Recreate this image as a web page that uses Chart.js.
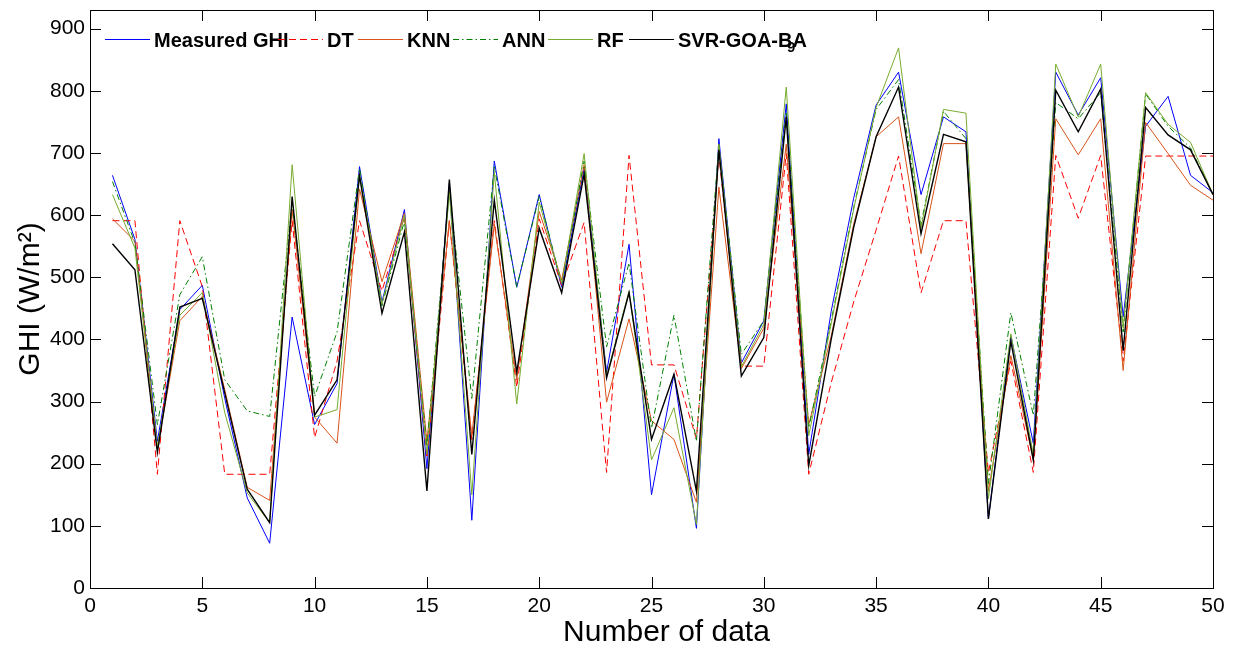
<!DOCTYPE html>
<html lang="en">
<head>
  <meta charset="UTF-8">
  <title>GHI - measured vs predicted</title>
  <script src="https://cdn.jsdelivr.net/npm/chart.js"></script>
  <style>
    body {
      margin: 0;
      background: #fff;
    }
    .wrap {
      width: 1235px;
      height: 648px;
    }
  </style>
</head>
<body>
  <div class="wrap"><canvas id="chart" width="1235" height="648"></canvas></div>

  <script>
    // sample numbers on the x axis
    const samples = [1, 2, 3, 4, 5, 6, 7, 8, 9, 10, 11, 12, 13, 14, 15, 16, 17, 18, 19, 20,
      21, 22, 23, 24, 25, 26, 27, 28, 29, 30, 31, 32, 33, 34, 35, 36, 37, 38, 39, 40,
      41, 42, 43, 44, 45, 46, 47, 48, 49, 50];
    const xTicks = [0, 5, 10, 15, 20, 25, 30, 35, 40, 45, 50];
    const yTicks = [0, 100, 200, 300, 400, 500, 600, 700, 800, 900];

    // GHI values (W/m2)
    const measured = [664, 561, 236, 448, 487, 305, 145, 72, 436, 263, 329, 678, 460, 609, 192, 651, 109, 687, 484, 633,
      484, 675, 347, 553, 150, 344, 96, 723, 362, 430, 779, 215, 445, 627, 777, 830, 633, 758, 734, 111,
      406, 233, 830, 761, 821, 436, 743, 791, 664, 636];
    const dt = [591, 591, 183, 591, 485, 183, 183, 183, 591, 242, 365, 591, 478, 597, 209, 591, 239, 591, 323, 594,
      487, 588, 186, 696, 359, 359, 240, 696, 357, 357, 699, 183, 330, 460, 576, 695, 475, 591, 591, 186,
      365, 186, 696, 595, 696, 365, 695, 695, 695, 695];
    const knn = [594, 558, 224, 430, 469, 319, 162, 141, 609, 275, 233, 642, 493, 603, 236, 591, 245, 585, 335, 606,
      496, 681, 299, 433, 269, 239, 138, 645, 353, 418, 714, 263, 405, 585, 726, 758, 538, 715, 715, 156,
      374, 206, 755, 697, 755, 350, 749, 699, 648, 624];
    const ann = [654, 555, 263, 472, 533, 335, 285, 276, 620, 308, 412, 675, 454, 591, 227, 639, 305, 678, 484, 630,
      490, 687, 388, 523, 257, 439, 236, 714, 376, 430, 764, 257, 430, 612, 770, 818, 585, 767, 723, 168,
      443, 278, 781, 755, 797, 412, 795, 743, 708, 633];
    const rf = [633, 547, 227, 439, 475, 282, 153, 105, 681, 275, 287, 666, 457, 600, 215, 636, 150, 669, 296, 621,
      490, 699, 341, 478, 206, 290, 102, 714, 356, 424, 806, 245, 425, 609, 773, 869, 579, 770, 764, 144,
      409, 215, 843, 758, 843, 418, 797, 746, 717, 633];
    const svr = [554, 512, 218, 452, 466, 314, 159, 105, 630, 278, 335, 663, 442, 573, 156, 657, 215, 624, 347, 579,
      475, 666, 338, 475, 239, 344, 156, 705, 341, 403, 758, 197, 400, 580, 726, 806, 570, 730, 718, 111,
      397, 206, 801, 734, 803, 382, 773, 729, 705, 633];

    const FONT = "'Liberation Sans', Arial, sans-serif";

    const toPoints = (arr) => samples.map((s, i) => ({x: s, y: arr[i]}));

    const series = [
      {label: 'Measured GHI', data: measured, color: '#0000ff', dash: [], width: 1, order: 5, legendX: 105},
      {label: 'DT', data: dt, color: '#ff0000', dash: [7, 4], width: 1, order: 4, legendX: 278},
      {label: 'KNN', data: knn, color: '#d95319', dash: [], width: 1, order: 3, legendX: 358},
      {label: 'ANN', data: ann, color: '#008000', dash: [6, 3, 1.5, 3], width: 1, order: 2, legendX: 453},
      {label: 'RF', data: rf, color: '#77ac30', dash: [], width: 1, order: 1, legendX: 548},
      {label: 'SVR-GOA-BA', data: svr, color: '#000000', dash: [], width: 1.4, order: 0, legendX: 629}
    ];

    // box, inward ticks, x label and the legend row, drawn the matlab way
    const framePlugin = {
      id: 'frame',
      afterDatasetsDraw(chart) {
        const ctx = chart.ctx;
        const area = chart.chartArea;
        const xs = chart.scales.x;
        const ys = chart.scales.y;
        const tick = 11;

        ctx.save();
        ctx.strokeStyle = '#000';
        ctx.lineWidth = 1;
        ctx.setLineDash([]);
        ctx.strokeRect(area.left + 0.5, area.top + 0.5, area.right - area.left, area.bottom - area.top);

        ctx.beginPath();
        xTicks.forEach(v => {
          const px = Math.round(xs.getPixelForValue(v)) + 0.5;
          ctx.moveTo(px, area.bottom);
          ctx.lineTo(px, area.bottom - tick);
          ctx.moveTo(px, area.top);
          ctx.lineTo(px, area.top + tick);
        });
        yTicks.forEach(v => {
          const py = Math.round(ys.getPixelForValue(v)) + 0.5;
          ctx.moveTo(area.left, py);
          ctx.lineTo(area.left + tick, py);
          ctx.moveTo(area.right, py);
          ctx.lineTo(area.right - tick, py);
        });
        ctx.stroke();

        // x label sits a little right of centre in the original
        ctx.fillStyle = '#000';
        ctx.font = '30px ' + FONT;
        ctx.textAlign = 'center';
        ctx.textBaseline = 'middle';
        ctx.fillText('Number of data', (area.left + area.right) / 2 + 15, 633);

        // legend
        const ly = 39.5;
        ctx.textAlign = 'left';
        ctx.textBaseline = 'alphabetic';
        ctx.font = 'bold 20px ' + FONT;
        series.forEach(s => {
          ctx.strokeStyle = s.color;
          ctx.lineWidth = 1;
          ctx.setLineDash(s.dash);
          ctx.beginPath();
          ctx.moveTo(s.legendX, ly);
          ctx.lineTo(s.legendX + 45, ly);
          ctx.stroke();
          ctx.fillText(s.label, s.legendX + 49, 47);
        });
        ctx.font = 'bold 15px ' + FONT;
        ctx.fillText('9', 787, 52);
        ctx.restore();
      }
    };

    const config = {
      type: 'line',
      data: {
        datasets: series.map(s => ({
          label: s.label,
          data: toPoints(s.data),
          borderColor: s.color,
          backgroundColor: s.color,
          borderWidth: s.width,
          borderDash: s.dash,
          pointRadius: 0,
          tension: 0,
          fill: false,
          order: s.order
        }))
      },
      options: {
        responsive: false,
        devicePixelRatio: 1,
        animation: false,
        layout: {padding: {top: 10, right: 22, left: 0, bottom: 0}},
        plugins: {
          legend: {display: false},
          tooltip: {enabled: false}
        },
        scales: {
          x: {
            type: 'linear',
            min: 0,
            max: 50,
            afterFit: (scale) => {
              scale.height = 60;
              scale.paddingLeft = 0;
              scale.paddingRight = 0;
            },
            afterBuildTicks: (scale) => { scale.ticks = xTicks.map(v => ({value: v})); },
            grid: {display: false, drawTicks: false},
            border: {display: false},
            ticks: {
              color: '#000',
              padding: 6,
              maxRotation: 0,
              font: {family: FONT, size: 21}
            }
          },
          y: {
            type: 'linear',
            min: 0,
            max: 930,
            afterFit: (scale) => {
              scale.width = 90;
              scale.paddingTop = 0;
              scale.paddingBottom = 0;
            },
            afterBuildTicks: (scale) => { scale.ticks = yTicks.map(v => ({value: v})); },
            grid: {display: false, drawTicks: false},
            border: {display: false},
            ticks: {
              color: '#000',
              padding: 5,
              font: {family: FONT, size: 21}
            },
            title: {
              display: true,
              text: 'GHI (W/m²)',
              color: '#000',
              padding: {top: 13, bottom: 0},
              font: {family: FONT, size: 30, lineHeight: 1.2}
            }
          }
        }
      },
      plugins: [framePlugin]
    };

    new Chart(document.getElementById('chart').getContext('2d'), config);
  </script>
</body>
</html>
